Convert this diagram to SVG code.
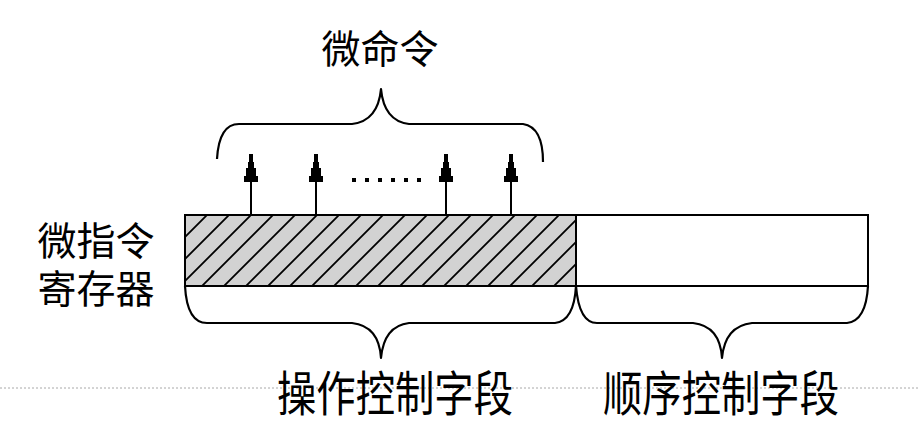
<svg xmlns="http://www.w3.org/2000/svg" width="919" height="424" viewBox="0 0 919 424">
  <style>
    .lbl { font-family: "Noto Sans CJK SC", "Noto Sans", sans-serif; font-size: 39px; fill: #000; }
    .tall { font-size: 48px; }
    .ln { fill: none; stroke: #000; stroke-width: 2; }
    .brace { fill: none; stroke: #000; stroke-width: 2.2; stroke-linejoin: round; }
  </style>
  <defs>
    <pattern id="hatch" patternUnits="userSpaceOnUse" width="22" height="22" patternTransform="translate(185,215)">
      <rect width="22" height="22" fill="#d2d2d2"/>
      <path d="M-2,2 L2,-2 M0,22 L22,0 M20,24 L24,20" stroke="#000" stroke-width="1.8"/>
    </pattern>
    <!-- stepped arrowhead, tip at (0,0), pointing up -->
    <path id="head" d="M-2,0 H2 V8 H3 V14 H5 V22 H7 V28 H-7 V22 H-5 V14 H-3 V8 H-2 Z" fill="#000"/>
  </defs>

  <!-- page guide line -->
  <line x1="0" y1="388" x2="919" y2="388" stroke="#a8a8a8" stroke-width="1" stroke-dasharray="2 2"/>

  <!-- micro-instruction register -->
  <g id="register">
    <rect x="185" y="215" width="391" height="71" fill="url(#hatch)"/>
    <rect x="576" y="215" width="292" height="71" fill="#fff"/>
    <rect x="185" y="215" width="683" height="71" class="ln"/>
    <line x1="576" y1="215" x2="576" y2="286" class="ln"/>
  </g>

  <g id="register-label">
    <text class="lbl" x="96" y="255" text-anchor="middle">微指令</text>
    <text class="lbl" x="96" y="303" text-anchor="middle">寄存器</text>
  </g>

  <!-- output arrows of the operation field -->
  <g id="connectors">
    <line x1="251" y1="215" x2="251" y2="175" class="ln"/>
    <line x1="316" y1="215" x2="316" y2="175" class="ln"/>
    <line x1="446" y1="215" x2="446" y2="175" class="ln"/>
    <line x1="511" y1="215" x2="511" y2="175" class="ln"/>
    <use href="#head" x="251" y="154"/>
    <use href="#head" x="316" y="154"/>
    <use href="#head" x="446" y="154"/>
    <use href="#head" x="511" y="154"/>
    <g id="ellipsis" fill="#000">
      <rect x="352" y="178" width="4" height="4"/>
      <rect x="365" y="178" width="4" height="4"/>
      <rect x="378" y="178" width="4" height="4"/>
      <rect x="391" y="178" width="4" height="4"/>
      <rect x="404" y="178" width="4" height="4"/>
      <rect x="417" y="178" width="4" height="4"/>
    </g>
  </g>

  <g id="micro-commands">
    <path class="brace" d="M217,159 Q219,124 239,124 L352,124 Q378,121 381,89 Q384,121 409,124 L523,124 Q543,127 543,162"/>
    <text class="lbl" x="380" y="63" text-anchor="middle">微命令</text>
  </g>

  <g id="operation-field">
    <path class="brace" d="M185,286 Q187,323 207,323 L352,323 Q379,326 381,358 Q384,326 409,323 L555,323 Q574,321 576,286"/>
    <text class="lbl tall" x="277" y="411" textLength="236" lengthAdjust="spacingAndGlyphs">操作控制字段</text>
  </g>

  <g id="sequence-field">
    <path class="brace" d="M576,286 Q579,323 597,323 L693,323 Q720,326 722,358 Q725,326 752,323 L847,323 Q866,321 868,286"/>
    <text class="lbl tall" x="603" y="411" textLength="236" lengthAdjust="spacingAndGlyphs">顺序控制字段</text>
  </g>
</svg>
